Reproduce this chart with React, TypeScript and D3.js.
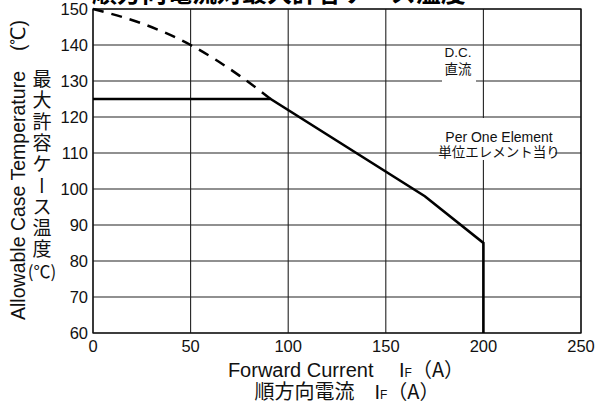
import React from "react";
import * as d3 from "d3";

const xTicks = [0, 50, 100, 150, 200, 250];
const yTicks = [60, 70, 80, 90, 100, 110, 120, 130, 140, 150];
const solidCurrent = [0, 91, 170, 200, 200];
const solidTemp = [125, 125, 98, 85, 60];
const dashedCurrent = [0, 25, 50, 75, 91];
const dashedTemp = [150, 146, 140, 131.5, 125];
const yLabelJa = ["最", "大", "許", "容", "ケ", "ー", "ス", "温", "度"];

const W = 602, H = 407;
const L = 93, R = 581, T = 9, B = 333;

export default function App() {
  const x = d3.scaleLinear().domain([0, 250]).range([L, R]);
  const y = d3.scaleLinear().domain([60, 150]).range([B, T]);
  const line = d3.line<[number, number]>().x(d => x(d[0])).y(d => y(d[1]));
  const curve = d3.line<[number, number]>().x(d => x(d[0])).y(d => y(d[1])).curve(d3.curveMonotoneX);
  const solid = solidCurrent.map((c, i) => [c, solidTemp[i]] as [number, number]);
  const dashed = dashedCurrent.map((c, i) => [c, dashedTemp[i]] as [number, number]);
  const sans = "'Liberation Sans', Arial, sans-serif";
  const cjk = "'Noto Sans CJK JP', sans-serif";
  return (
    <svg width={W} height={H} style={{ position: "absolute", left: 0, top: 0, background: "#fff" }}>
      <rect x={0} y={0} width={W} height={H} fill="#fff" />
      <text x={92} y={2} fontFamily={cjk} fontWeight="bold" fontSize={25} fill="#000">順方向電流対最大許容ケース温度</text>
      {yTicks.map(t => (
        <line key={"gy" + t} x1={L} x2={R} y1={y(t)} y2={y(t)} stroke="#222" strokeWidth={1.1} />
      ))}
      {xTicks.map(t => (
        <line key={"gx" + t} x1={x(t)} x2={x(t)} y1={T} y2={B} stroke="#222" strokeWidth={1.1} />
      ))}
      <rect x={L} y={T} width={R - L} height={B - T} fill="none" stroke="#111" strokeWidth={1.3} />
      {yTicks.map(t => (
        <text key={"ty" + t} x={88} y={y(t) + 6} textAnchor="end" fontFamily={sans} fontSize={16.5} fill="#111">{t}</text>
      ))}
      {xTicks.map(t => (
        <text key={"tx" + t} x={x(t)} y={352} textAnchor="middle" fontFamily={sans} fontSize={16.5} fill="#111">{t}</text>
      ))}
      {/* annotations with white backgrounds */}
      <rect x={442} y={59} width={34} height={24} fill="#fff" />
      <text x={458} y={57} textAnchor="middle" fontFamily={sans} fontSize={13.5} fill="#111">D.C.</text>
      <text x={458} y={74} textAnchor="middle" fontFamily={cjk} fontSize={13.5} fill="#111">直流</text>
      <rect x={441} y={118} width={116} height={42} fill="#fff" />
      <line x1={441} x2={557} y1={y(110)} y2={y(110)} stroke="#222" strokeWidth={1.1} />
      <rect x={442} y={144} width={113} height={15} fill="#fff" />
      <text x={499} y={142} textAnchor="middle" fontFamily={sans} fontSize={14} fill="#111">Per One Element</text>
      <text x={499} y={157} textAnchor="middle" fontFamily={cjk} fontSize={13.5} fill="#111">単位エレメント当り</text>
      {/* curves */}
      <path d={curve(dashed) || ""} fill="none" stroke="#000" strokeWidth={2.5} strokeDasharray="11,8" />
      <path d={line(solid) || ""} fill="none" stroke="#000" strokeWidth={2.6} />
      {/* axis titles */}
      <text transform="translate(25,170) rotate(-90)" textAnchor="middle" fontFamily={sans} fontSize={19.5} fill="#111">
        Allowable Case Temperature　(℃)
      </text>
      {yLabelJa.map((c, i) => (
        c === "ー"
          ? <text key={"ja" + i} transform={`translate(42,${79 + i * 21.3}) rotate(90)`} textAnchor="middle" dominantBaseline="central" fontFamily={cjk} fontSize={19} fill="#111">{c}</text>
          : <text key={"ja" + i} x={42} y={86 + i * 21.3} textAnchor="middle" fontFamily={cjk} fontSize={19} fill="#111">{c}</text>
      ))}
      <text x={42} y={278} textAnchor="middle" fontFamily={cjk} fontSize={17} fill="#111">(℃)</text>
      <text x={346} y={377} textAnchor="middle" fontFamily={sans} fontSize={20} fill="#111">
        Forward Current　 I<tspan fontSize={12}>F</tspan>
        <tspan fontFamily={cjk}>（A）</tspan>
      </text>
      <text x={347} y={399} textAnchor="middle" fontFamily={cjk} fontSize={20} fill="#111">
        順方向電流　<tspan fontFamily={sans}>I</tspan><tspan fontFamily={sans} fontSize={12}>F</tspan>（A）
      </text>
    </svg>
  );
}
